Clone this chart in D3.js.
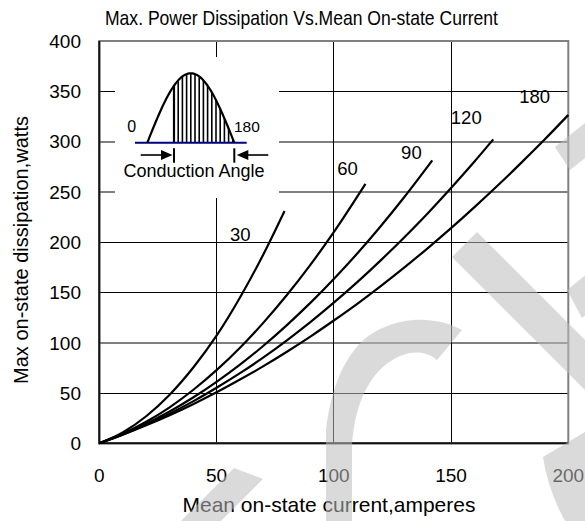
<!DOCTYPE html>
<html>
<head>
<meta charset="utf-8">
<script src="https://cdn.jsdelivr.net/npm/d3@7"></script>
<style>
  html, body { margin: 0; padding: 0; background: #fff; }
  svg { display: block; }
</style>
</head>
<body>
<div id="chart"></div>
<script>
// curve data, current in A, power in W
const angles = ["30", "60", "90", "120", "180"];
const current30 = [0, 10, 20, 30, 40, 50, 60, 70, 79];
const power30 = [0, 10.8, 26.9, 48.3, 75.1, 107, 145, 188, 231];
const current60 = [0, 10, 20, 30, 40, 50, 60, 70, 80, 90, 100, 113.5];
const power60 = [0, 9.4, 21.4, 35.8, 53, 72.7, 95, 120, 147.4, 177.4, 210, 258];
const current90 = [0, 10, 20, 30, 40, 50, 60, 70, 80, 90, 100, 110, 120, 130, 142];
const power90 = [0, 8.9, 19.5, 31.6, 45.5, 61.1, 78.2, 97, 117.5, 139.6, 163.4, 188.7, 215.8, 244.6, 281.3];
const current120 = [0, 10, 20, 30, 40, 50, 60, 70, 80, 90, 100, 110, 120, 130, 140, 150, 160, 168];
const power120 = [0, 8.7, 18.6, 29.5, 41.7, 55.2, 69.7, 85.4, 102.4, 120.5, 139.8, 160.2, 181.9, 204.7, 228.6, 253.9, 280.2, 302.2];
const current180 = [0, 10, 20, 30, 40, 50, 60, 70, 80, 90, 100, 110, 120, 130, 140, 150, 160, 170, 180, 190, 200];
const power180 = [0, 8.5, 17.9, 27.9, 38.9, 50.7, 63.4, 76.7, 91, 106.1, 122.1, 138.7, 156.3, 174.7, 193.9, 213.9, 234.8, 256.5, 279.1, 302.3, 326.5];
// where each angle label sits, in chart units (left edge, baseline)
const labelCurrent = [55.7, 101.5, 128.7, 149.9, 179.1];
const labelPower = [201, 266.8, 282.7, 317.5, 338.6];

const xTicks = [0, 50, 100, 150, 200];
const yTicks = [0, 50, 100, 150, 200, 250, 300, 350, 400];
// these rows print soft grey in the scan
const softRows = [100, 250, 300];

const W = 585, H = 521;
const plot = { left: 99.3, right: 568.3, top: 41, bottom: 443.3 };
const FONT = "'Liberation Sans', Arial, sans-serif";

const svg = d3.select("#chart").append("svg")
    .attr("width", W)
    .attr("height", H)
    .style("font-family", FONT);

const x = d3.scaleLinear().domain([0, 200]).range([plot.left, plot.right]);
const y = d3.scaleLinear().domain([0, 400]).range([plot.bottom, plot.top]);

// title
svg.append("text")
    .attr("x", 105).attr("y", 25)
    .attr("textLength", 393).attr("lengthAdjust", "spacingAndGlyphs")
    .attr("font-size", 21)
    .text("Max. Power Dissipation Vs.Mean On-state Current");

// tick labels
svg.append("g").selectAll("text").data(yTicks).join("text")
    .attr("x", 81).attr("y", d => y(d)).attr("dy", "0.36em")
    .attr("text-anchor", "end").attr("font-size", 19)
    .text(d => d);

svg.append("g").selectAll("text").data(xTicks).join("text")
    .attr("x", d => x(d)).attr("y", 482)
    .attr("text-anchor", "middle").attr("font-size", 19)
    .text(d => d);

svg.append("text")
    .attr("transform", "translate(28,250) rotate(-90)")
    .attr("text-anchor", "middle").attr("font-size", 20)
    .text("Max on-state dissipation,watts");

svg.append("text")
    .attr("x", 329).attr("y", 512)
    .attr("text-anchor", "middle").attr("font-size", 21)
    .text("Mean on-state current,amperes");

// grid
const rowY = d => softRows.includes(d) ? Math.round(y(d)) : Math.floor(y(d)) + 0.5;
const grid = svg.append("g").attr("stroke", "#000").attr("stroke-width", 1);
grid.selectAll("line.h").data(yTicks.slice(1, -1)).join("line").attr("class", "h")
    .attr("x1", plot.left).attr("x2", plot.right)
    .attr("y1", rowY).attr("y2", rowY);
grid.selectAll("line.v").data(xTicks.slice(1, -1)).join("line").attr("class", "v")
    .attr("y1", plot.top).attr("y2", plot.bottom)
    .attr("x1", d => Math.floor(x(d)) + 0.5).attr("x2", d => Math.floor(x(d)) + 0.5);

// frame: grey top/right, black left/bottom
svg.append("rect")
    .attr("x", plot.left).attr("y", plot.top)
    .attr("width", plot.right - plot.left).attr("height", plot.bottom - plot.top)
    .attr("fill", "none").attr("stroke", "#808080").attr("stroke-width", 2);
svg.append("path")
    .attr("d", `M${plot.left},${plot.top}V${plot.bottom}H${plot.right}`)
    .attr("fill", "none").attr("stroke", "#111").attr("stroke-width", 2);

// curves
const series = [
    [current30, power30], [current60, power60], [current90, power90],
    [current120, power120], [current180, power180]
];
const line = d3.line().x(d => x(d[0])).y(d => y(d[1])).curve(d3.curveMonotoneX);
svg.append("g").selectAll("path").data(series).join("path")
    .attr("d", s => line(s[0].map((c, i) => [c, s[1][i]])))
    .attr("fill", "none").attr("stroke", "#000").attr("stroke-width", 2.2)
    .attr("stroke-linejoin", "round");

svg.append("g").selectAll("text").data(angles).join("text")
    .attr("x", (d, i) => x(labelCurrent[i]))
    .attr("y", (d, i) => y(labelPower[i]))
    .attr("font-size", 18.5)
    .text(d => d);

// inset: conduction angle sketch
const inset = svg.append("g").attr("transform", "translate(115,57)");
inset.append("rect").attr("width", 164).attr("height", 141).attr("fill", "#fff");

const base = 85.7, s0 = 32.3, s1 = 119.3, peak = 69.4;
const sx = d3.scaleLinear().domain([0, 180]).range([s0, s1]);
const sineY = deg => base - peak * Math.sin(deg * Math.PI / 180);
const hatchStart = 59;
const hatch = d3.range(hatchStart + 4.2, s1 - 1, 4.2);
inset.append("g").selectAll("line").data(hatch).join("line")
    .attr("x1", d => d).attr("x2", d => d)
    .attr("y1", base).attr("y2", d => sineY(sx.invert(d)))
    .attr("stroke", "#000").attr("stroke-width", 1.6);
inset.append("line")
    .attr("x1", hatchStart).attr("x2", hatchStart)
    .attr("y1", base).attr("y2", sineY(sx.invert(hatchStart)))
    .attr("stroke", "#000").attr("stroke-width", 2.2);

inset.append("line")
    .attr("x1", 20).attr("x2", 131.7).attr("y1", base).attr("y2", base)
    .attr("stroke", "#000080").attr("stroke-width", 2);
inset.append("path")
    .attr("d", d3.line().x(d => sx(d)).y(d => sineY(d))(d3.range(0, 181, 3)))
    .attr("fill", "none").attr("stroke", "#000").attr("stroke-width", 2.2);

const ay = 98;
const arrows = inset.append("g").attr("stroke", "#000").attr("stroke-width", 1.6);
arrows.append("line").attr("x1", 25.7).attr("x2", 47).attr("y1", ay).attr("y2", ay);
arrows.append("line").attr("x1", hatchStart).attr("x2", hatchStart).attr("y1", 91.3).attr("y2", 105.7).attr("stroke-width", 2);
arrows.append("line").attr("x1", s1).attr("x2", s1).attr("y1", 91.3).attr("y2", 105.7).attr("stroke-width", 2);
arrows.append("line").attr("x1", 133).attr("x2", 153.3).attr("y1", ay).attr("y2", ay);
inset.append("path").attr("d", `M46,${ay - 5}L57.6,${ay}L46,${ay + 5}Z`).attr("fill", "#000");
inset.append("path").attr("d", `M133.3,${ay - 5}L121.7,${ay}L133.3,${ay + 5}Z`).attr("fill", "#000");

inset.append("text").attr("x", 12.3).attr("y", 74.7).attr("font-size", 16).text("0");
inset.append("text").attr("x", 119).attr("y", 74.7).attr("font-size", 15.5).text("180");
inset.append("text").attr("x", 79).attr("y", 120.3).attr("text-anchor", "middle")
    .attr("font-size", 18).text("Conduction Angle");

// light grey watermark laid over the page
const mark = svg.append("g").attr("fill", "#bcbcbc").attr("opacity", 0.55);
mark.append("path").attr("d", "M234,468L263,479L143,599L114,588Z");
mark.append("path").attr("d",
    "M462,330C440,318 410,316 385,327C355,338 333,372 326,430L326,530L352,530L352,445" +
    "C355,400 372,368 400,356C415,350 428,352 437,360Z");
mark.append("path").attr("d", "M452,257L477,232L677,432L652,457Z");
mark.append("path").attr("d", "M555,147L570,170L670,90L655,67Z");
mark.append("path").attr("d", "M567,290L582,318L682,238L667,210Z");
mark.append("path").attr("d", "M543,457L585,432L585,521L565,521Q548,490 543,457Z");
</script>
</body>
</html>
